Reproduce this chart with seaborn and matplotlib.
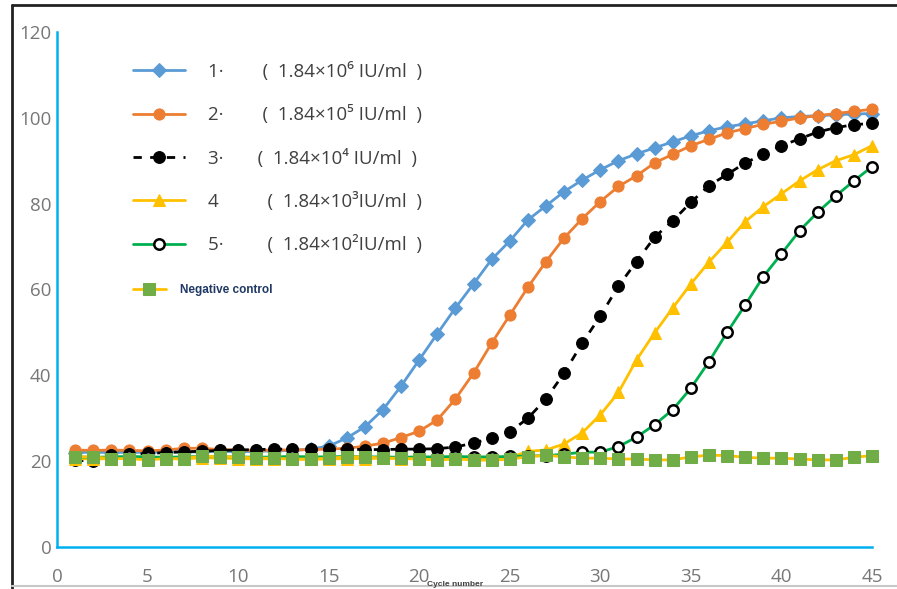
import matplotlib
matplotlib.use("Agg")
import matplotlib.pyplot as plt
import numpy as np
import seaborn as sns
from matplotlib.lines import Line2D
from matplotlib.ticker import MultipleLocator

# --- data (fluorescence vs cycle) ---
cycles = np.arange(1, 46)

s1 = [22.0, 22.1, 22.0, 22.1, 22.0, 22.2, 22.1, 22.2, 22.3, 22.2, 22.3, 22.4, 22.5, 22.8,
      23.5, 25.4, 28.0, 32.0, 37.5, 43.6, 49.7, 55.7, 61.3, 67.0, 71.3, 76.2, 79.5, 82.8,
      85.5, 87.9, 90.0, 91.6, 93.0, 94.4, 95.8, 97.0, 97.9, 98.6, 99.3, 100.0, 100.3,
      100.5, 100.7, 100.9, 101.0]
s2 = [22.6, 22.5, 22.6, 22.5, 22.4, 22.6, 23.0, 23.0, 22.7, 22.6, 22.5, 22.6, 22.6, 22.7,
      22.8, 23.0, 23.5, 24.2, 25.5, 27.0, 29.6, 34.5, 40.5, 47.5, 54.0, 60.5, 66.5, 72.0,
      76.5, 80.5, 84.0, 86.5, 89.5, 91.5, 93.5, 95.0, 96.5, 97.5, 98.5, 99.2, 100.0,
      100.5, 101.0, 101.5, 102.0]
s3 = [20.2, 20.0, 21.5, 21.6, 21.8, 22.0, 22.2, 22.3, 22.5, 22.6, 22.7, 22.8, 22.8, 22.8,
      22.8, 22.8, 22.7, 22.7, 22.8, 22.8, 22.9, 23.3, 24.2, 25.4, 26.8, 30.0, 34.5, 40.5,
      47.5, 53.8, 60.8, 66.5, 72.2, 76.0, 80.3, 84.2, 86.8, 89.5, 91.5, 93.5, 95.1, 96.7,
      97.7, 98.4, 98.7]
s4 = [20.6, 20.5, 20.6, 20.8, 20.7, 20.6, 20.5, 20.8, 20.7, 20.6, 20.5, 20.6, 20.5, 20.4,
      20.5, 20.6, 20.6, 20.7, 20.6, 20.5, 20.5, 20.6, 20.6, 20.7, 20.8, 22.3, 22.6, 24.0,
      26.6, 30.8, 36.0, 43.6, 49.9, 55.7, 61.3, 66.4, 71.0, 75.8, 79.3, 82.3, 85.3, 87.9,
      90.0, 91.4, 93.5]
s5 = [21.0, 20.9, 21.0, 21.1, 21.0, 20.9, 21.0, 21.1, 21.0, 21.0, 20.9, 21.0, 21.1, 21.0,
      21.0, 21.1, 21.0, 21.0, 20.9, 21.0, 21.0, 21.1, 21.0, 21.0, 21.1, 21.2, 21.3, 21.6,
      22.1, 22.1, 23.4, 25.6, 28.5, 32.0, 37.0, 43.2, 50.0, 56.4, 63.0, 68.3, 73.7, 78.0,
      81.8, 85.3, 88.6]
neg = [21.0, 21.0, 20.6, 20.6, 20.3, 20.6, 20.6, 21.2, 21.0, 21.0, 20.7, 20.7, 20.5, 20.5,
       20.7, 21.0, 21.0, 20.7, 20.7, 20.5, 20.3, 20.5, 20.3, 20.2, 20.5, 21.0, 21.4, 21.0,
       20.7, 20.7, 20.5, 20.5, 20.3, 20.3, 21.0, 21.4, 21.3, 20.9, 20.7, 20.7, 20.5, 20.3,
       20.3, 20.9, 21.3]

labels = [
    "1·        (  1.84×10⁶ IU/ml  )",
    "2·        (  1.84×10⁵ IU/ml  )",
    "3·       (  1.84×10⁴ IU/ml  )",
    "4          (  1.84×10³IU/ml  )",
    "5·         (  1.84×10²IU/ml  )",
    "Negative control",
]

series = [s1, s2, s3, s4, s5, neg]
styles = [
    dict(color="#5B9BD5", marker="D", markersize=7, markerfacecolor="#5B9BD5",
         markeredgecolor="#5B9BD5", linestyle="-"),
    dict(color="#ED7D31", marker="o", markersize=8, markerfacecolor="#ED7D31",
         markeredgecolor="#ED7D31", linestyle="-"),
    dict(color="black", marker="o", markersize=8.5, markerfacecolor="black",
         markeredgecolor="black", linestyle=(0, (3, 3))),
    dict(color="#FFC000", marker="^", markersize=9, markerfacecolor="#FFC000",
         markeredgecolor="#FFC000", linestyle="-"),
    dict(color="#00B050", marker="o", markersize=7.5, markerfacecolor="white",
         markeredgecolor="black", markeredgewidth=1.8, linestyle="-"),
    dict(color="#FFC000", marker="s", markersize=9, markerfacecolor="#70AD47",
         markeredgecolor="#70AD47", linestyle="-"),
]

sns.set_style("white")
plt.rcParams["font.family"] = ["Open Sans", "DejaVu Sans"]

fig = plt.figure(figsize=(8.97, 5.89), dpi=100)
ax = fig.add_axes([0.0635, 0.0713, 0.9086, 0.8744])

for vals, lab, st in zip(series, labels, styles):
    sns.lineplot(x=cycles, y=vals, ax=ax, label=lab, linewidth=2.0,
                 clip_on=False, **st)

axis_blue = "#00B0F0"
ax.set_xlim(0, 45)
ax.set_ylim(0, 120)
ax.xaxis.set_major_locator(MultipleLocator(5))
ax.xaxis.set_minor_locator(MultipleLocator(1))
ax.yaxis.set_major_locator(MultipleLocator(20))
ax.yaxis.set_minor_locator(MultipleLocator(4))
ax.tick_params(which="both", direction="in", color=axis_blue, width=1.5,
               labelcolor="#777777", labelsize=13.5)
ax.tick_params(which="major", length=7)
ax.tick_params(which="minor", length=4)
ax.tick_params(axis="x", pad=15)
ax.tick_params(axis="y", pad=4)
for side in ("top", "right"):
    ax.spines[side].set_visible(False)
for side in ("left", "bottom"):
    ax.spines[side].set_color(axis_blue)
    ax.spines[side].set_linewidth(1.8)
ax.set_xlabel("")
ax.set_ylabel("")

handles, labs = ax.get_legend_handles_labels()
leg_kw = dict(loc="upper left", frameon=False, borderpad=0, borderaxespad=0,
              handlelength=2.8, handletextpad=1.2)
leg = ax.legend(handles[:5], labs[:5], bbox_to_anchor=(0.093, 0.942),
                prop={"size": 13.5}, labelspacing=1.3, **leg_kw)
for t in leg.get_texts():
    t.set_color("#404040")
ax.add_artist(leg)

leg2 = ax.legend(handles[5:], labs[5:], bbox_to_anchor=(0.093, 0.51),
                 prop={"family": ["Liberation Sans", "DejaVu Sans"],
                       "size": 8.5, "weight": "bold"}, **leg_kw)
leg2.get_texts()[0].set_color("#1F3864")

# cropped axis title at the very bottom, as in the screenshot
fig.text(455 / 897, 0.5 / 589, "Cycle number", ha="center", va="bottom",
         fontsize=6, fontweight="bold", color="#404040",
         family=["Liberation Sans", "DejaVu Sans"])

# screenshot frame lines
fig.add_artist(Line2D([12 / 897, 12 / 897], [0, 1 - 5 / 589],
                      transform=fig.transFigure, color="#222222", lw=2))
fig.add_artist(Line2D([12 / 897, 1], [1 - 5 / 589, 1 - 5 / 589],
                      transform=fig.transFigure, color="#222222", lw=2))
fig.add_artist(Line2D([12 / 897, 1], [3.5 / 589, 3.5 / 589],
                      transform=fig.transFigure, color="#C8C8C8", lw=1.5))

fig.savefig("out.png", dpi=100)
